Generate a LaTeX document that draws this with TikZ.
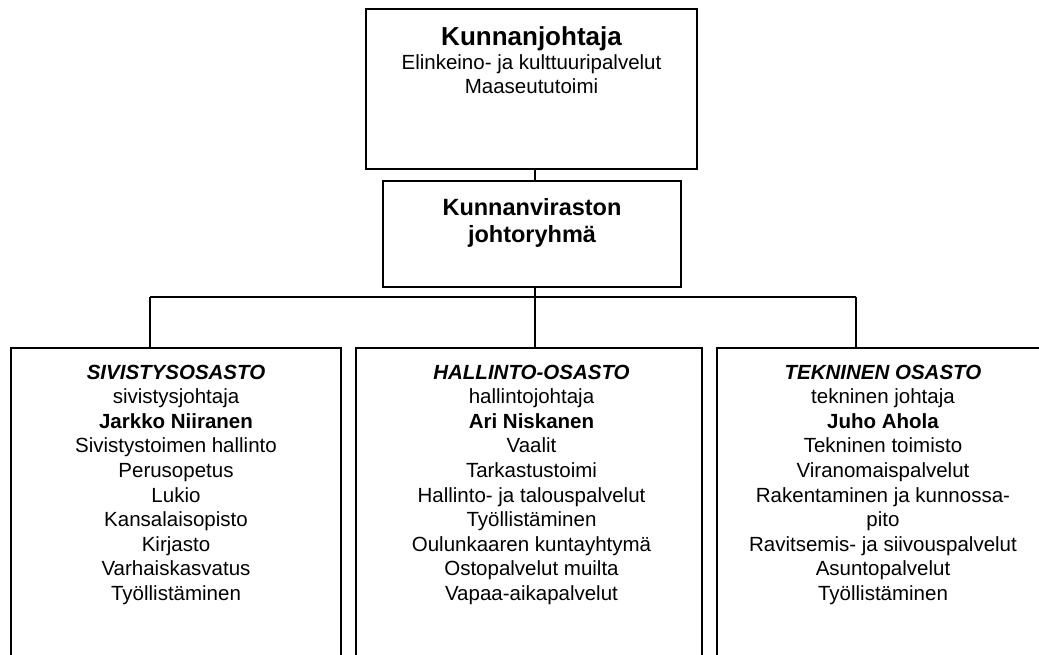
\documentclass[tikz,border=0pt]{standalone}
\usepackage{fontspec}
\setmainfont{Liberation Sans}
\begin{document}
\begin{tikzpicture}[x=1pt,y=-1pt,
  box/.style={draw=black, line width=1.6pt, rectangle, inner sep=0pt},
  conn/.style={draw=black, line width=1.6pt},
  txt/.style={inner sep=0pt, align=center, font=\fontsize{20.5}{24.6}\selectfont},
  ttl/.style={inner sep=0pt, align=center, font=\fontsize{26}{29}\selectfont\bfseries},
  sttl/.style={inner sep=0pt, align=center, font=\fontsize{23.5}{27.5}\selectfont\bfseries}]
\useasboundingbox (0,0) rectangle (1039,654);
\clip (0,0) rectangle (1039,654);
% boxes
\node[box, minimum width=331pt, minimum height=160pt] (top) at (531.5,89) {};
\node[box, minimum width=298pt, minimum height=106pt] (mid) at (532,234) {};
\node[box, minimum width=330pt, minimum height=360pt] (sivi) at (176,528) {};
\node[box, minimum width=346pt, minimum height=360pt] (hall) at (529,528) {};
\node[box, minimum width=332pt, minimum height=360pt] (tekn) at (883,528) {};
% texts
\node[ttl, anchor=base] (toptitle) at (531.5,45) {Kunnanjohtaja};
\node[txt, anchor=base] (topl1) at (531.5,69) {Elinkeino- ja kulttuuripalvelut};
\node[txt, anchor=base] (topl2) at (531.5,93) {Maaseututoimi};
\node[sttl, anchor=base] (midt1) at (532,215) {Kunnanviraston};
\node[sttl, anchor=base] (midt2) at (532,242) {johtoryhmä};
\node[txt, anchor=north] (sivitxt) at (176,364.5) {\textbf{\textit{SIVISTYSOSASTO}}\\sivistysjohtaja\\\textbf{Jarkko Niiranen}\\Sivistystoimen hallinto\\Perusopetus\\Lukio\\Kansalaisopisto\\Kirjasto\\Varhaiskasvatus\\Työllistäminen};
\node[txt, anchor=north] (halltxt) at (531.5,364.5) {\textbf{\textit{HALLINTO-OSASTO}}\\hallintojohtaja\\\textbf{Ari Niskanen}\\Vaalit\\Tarkastustoimi\\Hallinto- ja talouspalvelut\\Työllistäminen\\Oulunkaaren kuntayhtymä\\Ostopalvelut muilta\\Vapaa-aikapalvelut};
\node[txt, anchor=north] (tekntxt) at (883,364.5) {\textbf{\textit{TEKNINEN OSASTO}}\\tekninen johtaja\\\textbf{Juho Ahola}\\Tekninen toimisto\\Viranomaispalvelut\\Rakentaminen ja kunnossa-\\pito\\Ravitsemis- ja siivouspalvelut\\Asuntopalvelut\\Työllistäminen};
% connectors
\coordinate (cx) at (535,0);
\coordinate (busL) at (150,297);
\coordinate (busR) at (856,297);
\draw[conn] (top.south -| cx) -- (mid.north -| cx);
\draw[conn] (mid.south -| cx) -- (hall.north -| cx);
\draw[conn] (busL) -- (busR);
\draw[conn] (busL) -- (sivi.north -| busL);
\draw[conn] (busR) -- (tekn.north -| busR);
\end{tikzpicture}
\end{document}
